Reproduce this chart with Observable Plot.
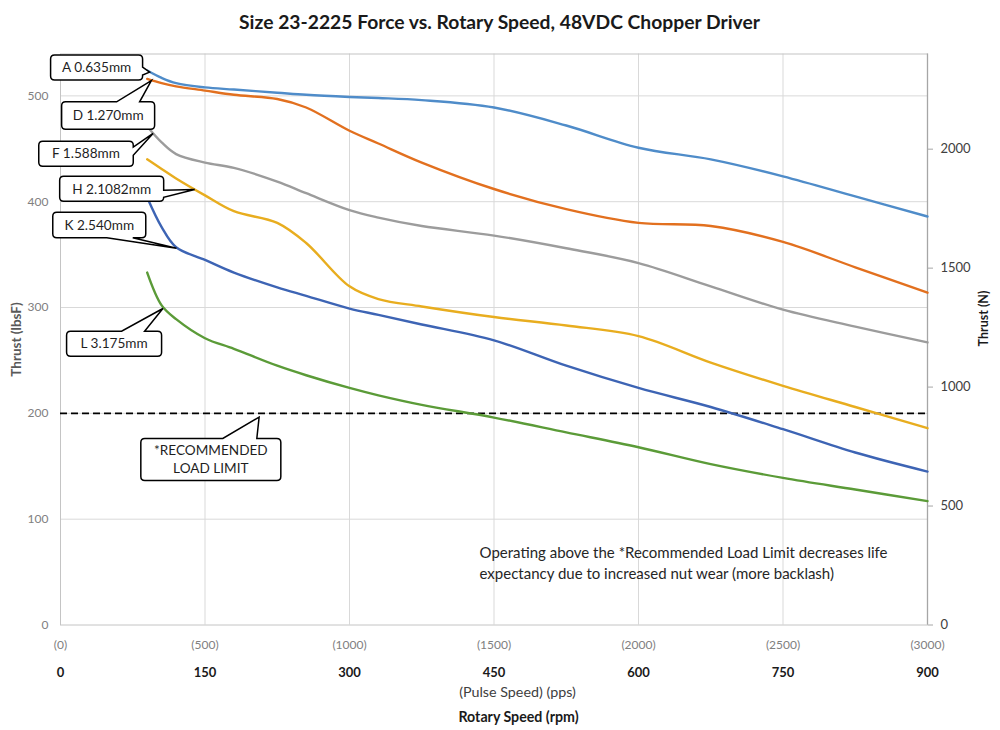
<!DOCTYPE html>
<html>
<head>
<meta charset="utf-8">
<script src="https://cdn.jsdelivr.net/npm/d3@7"></script>
<script src="https://cdn.jsdelivr.net/npm/@observablehq/plot@0.6"></script>
<style>
  body { margin: 0; background: #fff; }
  #chart svg { display: block; }
</style>
</head>
<body>
<div id="chart"></div>
<script>
// ---------- data ----------
const speedPps = [300, 350, 400, 500, 600, 750, 850, 1000, 1100, 1250, 1500, 1750, 2000, 2250, 2500, 2750, 3000];
const seriesNames = ["A 0.635mm", "D 1.270mm", "F 1.588mm", "H 2.1082mm", "K 2.540mm", "L 3.175mm"];
const thrustA = [524, 517, 512, 508, 506, 503, 501, 499, 498, 496, 489, 472, 451, 440, 424, 405, 386];
const thrustD = [516, 512, 509, 505, 501, 497, 489, 467, 455, 437, 412, 393, 380, 377, 362, 338, 314];
const thrustF = [471, 456, 445, 437, 432, 419, 408, 392, 385, 377, 368, 356, 342, 320, 298, 282, 267];
const thrustH = [440, 431, 422, 406, 391, 380, 361, 320, 308, 301, 291, 283, 273, 248, 226, 206, 186];
const thrustK = [404, 376, 357, 345, 333, 319, 311, 299, 293, 284, 269, 245, 224, 206, 185, 163, 145];
const thrustL = [333, 302, 289, 271, 261, 245, 236, 224, 217, 208, 196, 182, 168, 152, 139, 128, 117];
const seriesValues = [thrustA, thrustD, thrustF, thrustH, thrustK, thrustL];
const seriesColors = ["#4f8cc9", "#e2701f", "#9c9c9c", "#e8ad1f", "#3d64b4", "#5b9b38"];

const ppsTicks = [0, 500, 1000, 1500, 2000, 2500, 3000];
const rpmPerPps = 0.3;
const lbfTicks = [0, 100, 200, 300, 400, 500];
const newtonTicks = [0, 500, 1000, 1500, 2000];
const newtonPerLbf = 4.448;
const newtonMax = 2400;
const loadLimit = 200;

const titleText = "Size 23-2225 Force vs. Rotary Speed, 48VDC Chopper Driver";
const noteText = "Operating above the *Recommended Load Limit decreases life\nexpectancy due to increased nut wear (more backlash)";
const noteAt = { pps: 1450, lbf: 59.5 };

// callouts: tip in data units, box offset/size in px relative to the tip
const callouts = [
  { lines: ["A 0.635mm"],  tip: [310, 522],  box: [-99, -17, 92, 25],   side: "right",  base: [12, 20] },
  { lines: ["D 1.270mm"],  tip: [316, 514],  box: [-89.7, 21.3, 93, 27.5], side: "top", base: [55, 78] },
  { lines: ["F 1.588mm"],  tip: [322, 464],  box: [-114.3, 7.7, 94.5, 25], side: "right", base: [6, 14] },
  { lines: ["H 2.1082mm"], tip: [466, 411],  box: [-135, -13.3, 104, 25], side: "right",  base: [14, 21] },
  { lines: ["K 2.540mm"],  tip: [403, 355.6], box: [-123.7, -36, 93, 25.5], side: "bottom", base: [54, 80] },
  { lines: ["L 3.175mm"],  tip: [356, 298.6], box: [-96.3, 22.7, 95, 25], side: "top",    base: [55, 78] },
  { lines: ["*RECOMMENDED", "LOAD LIMIT"], tip: [689, 196], box: [-118.3, 21.3, 140, 42], side: "top", base: [82, 116] }
];

// ---------- table ----------
const rows = [];
seriesNames.forEach((name, i) => {
  speedPps.forEach((p, j) => rows.push({ series: name, pps: p, lbf: seriesValues[i][j] }));
});

const FONT = "Lato, 'Open Sans', 'DejaVu Sans', sans-serif";

const chart = Plot.plot({
  width: 1000,
  height: 730,
  marginTop: 53.5,
  marginRight: 73,
  marginBottom: 105.5,
  marginLeft: 60,
  style: { fontFamily: FONT, background: "#fff", overflow: "visible" },
  x: { domain: [0, 3000], axis: null },
  y: { domain: [0, newtonMax / newtonPerLbf], axis: null },
  color: { domain: seriesNames, range: seriesColors },
  marks: [
    Plot.ruleX(ppsTicks.slice(1, -1), { stroke: "#d9d9d9", strokeWidth: 1 }),
    Plot.ruleY(lbfTicks.slice(1), { stroke: "#d9d9d9", strokeWidth: 1 }),
    Plot.frame({ stroke: "#c4c4c4", strokeWidth: 1 }),
    Plot.ruleX([3000], { stroke: "#a6a6a6", strokeWidth: 1.3 }),
    Plot.axisY(lbfTicks, { anchor: "left", tickSize: 0, tickPadding: 12, fill: "#808080", fontSize: 12, label: null }),
    Plot.axisY(newtonTicks.map(n => n / newtonPerLbf), {
      anchor: "right", tickSize: 5, tickPadding: 8, stroke: "#a6a6a6", fill: "#404040", fontSize: 13,
      tickFormat: d => String(Math.round(d * newtonPerLbf / 100) * 100), label: null
    }),
    Plot.text(ppsTicks, { x: d => d, frameAnchor: "bottom", dy: 20.5, lineAnchor: "middle", text: d => `(${d})`, fill: "#808080", fontSize: 12 }),
    Plot.text(ppsTicks, { x: d => d, frameAnchor: "bottom", dy: 47.5, lineAnchor: "middle", text: d => String(Math.round(d * rpmPerPps)), fill: "#1a1a1a", fontSize: 13, fontWeight: "bold" }),
    Plot.text(["(Pulse Speed) (pps)"], { frameAnchor: "bottom", dx: 23.5, dy: 67.5, lineAnchor: "middle", fill: "#404040", fontSize: 14.3 }),
    Plot.text(["Rotary Speed (rpm)"], { frameAnchor: "bottom", dx: 24.5, dy: 92.5, lineAnchor: "middle", fill: "#1a1a1a", fontSize: 14.2, fontWeight: "bold" }),
    Plot.text([titleText], { frameAnchor: "top", dx: 5.5, dy: -31.5, lineAnchor: "middle", fill: "#1a1a1a", fontSize: 19.3, fontWeight: "bold" }),
    Plot.text(["Thrust (lbsF)"], { frameAnchor: "left", dx: -44, textAnchor: "middle", lineAnchor: "middle", rotate: -90, fill: "#595959", fontSize: 13.5, fontWeight: "bold" }),
    Plot.text(["Thrust (N)"], { frameAnchor: "right", dx: 56, dy: -21, textAnchor: "middle", lineAnchor: "middle", rotate: -90, fill: "#1a1a1a", fontSize: 12.5, fontWeight: "bold" }),
    Plot.ruleY([loadLimit], { stroke: "#000", strokeWidth: 1.8, strokeDasharray: "7,4" }),
    Plot.line(rows, { x: "pps", y: "lbf", z: "series", stroke: "series", strokeWidth: 2.4, curve: "catmull-rom" }),
    Plot.text([noteText], { x: () => noteAt.pps, y: () => noteAt.lbf, textAnchor: "start", lineAnchor: "middle", lineHeight: 1.4, fill: "#262626", fontSize: 15 })
  ]
});

// ---------- callouts drawn through the chart's own scales ----------
const sx = chart.scale("x"), sy = chart.scale("y");
function calloutPath(x0, y0, w, h, side, b0, b1, tx, ty, r = 4) {
  const x1 = x0 + w, y1 = y0 + h;
  let p = `M${x0 + r},${y0}`;
  if (side === "top") p += `L${x0 + b0},${y0}L${tx},${ty}L${x0 + b1},${y0}`;
  p += `L${x1 - r},${y0}Q${x1},${y0} ${x1},${y0 + r}`;
  if (side === "right") p += `L${x1},${y0 + b0}L${tx},${ty}L${x1},${y0 + b1}`;
  p += `L${x1},${y1 - r}Q${x1},${y1} ${x1 - r},${y1}`;
  if (side === "bottom") p += `L${x0 + b1},${y1}L${tx},${ty}L${x0 + b0},${y1}`;
  p += `L${x0 + r},${y1}Q${x0},${y1} ${x0},${y1 - r}`;
  p += `L${x0},${y0 + r}Q${x0},${y0} ${x0 + r},${y0}Z`;
  return p;
}
const svg = d3.select(chart);
const g = svg.append("g").attr("aria-label", "callouts");
callouts.forEach(c => {
  const tx = sx.apply(c.tip[0]), ty = sy.apply(c.tip[1]);
  const [dx, dy, w, h] = c.box;
  const x0 = tx + dx, y0 = ty + dy;
  g.append("path")
    .attr("d", calloutPath(x0, y0, w, h, c.side, c.base[0], c.base[1], tx, ty))
    .attr("fill", "#fff").attr("stroke", "#000").attr("stroke-width", 1.5).attr("stroke-linejoin", "miter");
  const lh = 18.5;
  c.lines.forEach((t, i) => {
    g.append("text")
      .attr("x", x0 + w / 2)
      .attr("y", y0 + h / 2 + (i - (c.lines.length - 1) / 2) * lh)
      .attr("dy", "0.35em")
      .attr("text-anchor", "middle")
      .attr("font-family", FONT)
      .attr("font-size", 13.6)
      .attr("fill", "#1f1f1f")
      .text(t);
  });
});

document.getElementById("chart").appendChild(chart);
</script>
</body>
</html>
